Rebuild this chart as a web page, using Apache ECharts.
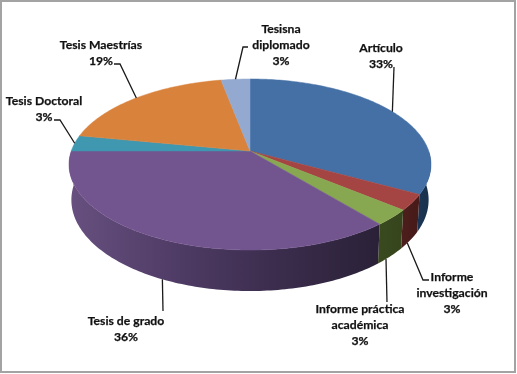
<!DOCTYPE html>
<html>
<head>
<meta charset="utf-8">
<style>html,body{margin:0;padding:0;background:#fff}#c{width:517px;height:374px}</style>
<script src="https://cdn.jsdelivr.net/npm/echarts@6/dist/echarts.min.js"></script>
</head>
<body>
<div id="c"></div>
<script>
// Data
var categories = ['Artículo','Informe investigación','Informe práctica académica','Tesis de grado','Tesis Doctoral','Tesis Maestrías','Tesisna diplomado'];
var values = [33,3,3,36,3,19,3];
var labelLines = [['Artículo'],['Informe','investigación'],['Informe práctica','académica'],['Tesis de grado'],['Tesis Doctoral'],['Tesis Maestrías'],['Tesisna','diplomado']];

// Styles
var topColors = ['#4470a6','#a54543','#87a750','#72548e','#3f97b0','#d9823c','#93a9d0'];
var wallStops = [
  [[0,'#1e3d60'],[1,'#18304a']],
  [[0,'#4e1f1c'],[1,'#471b19']],
  [[0,'#3a4a1f'],[1,'#36451c']],
  [[0,'#67507f'],[0.3,'#523e69'],[0.65,'#3c2d4e'],[1,'#2a2137']],
  null,null,null
];
var wallX = [[400,432],[398,416],[378,400],[70,380],null,null,null];

// Layout: projection of the tilted disc
var CX=250, CY=151, RX=178.7, RY=83.4, K=0.158, DEPTH=34.5, BOTTOM_X=0.987;
// label centre x, first-line middle y, leader bend points
var labelBox = [[381,48],[452,277],[360,309],[126,321],[44,101],[101,45],[281,29]];
var leaderPath = [
  [[394,67]],
  [[423,280],[429,280]],
  [[387,302]],
  [[163,311]],
  [[60,120],[54,120]],
  [[120,64],[114,64]],
  [[243,47],[248,47]]
];
var leaderOnWall = [false,true,true,true,false,false,false];
var leaderShift = [0,1.8,2,0,0,0,0];

var total = values.reduce(function(a,b){return a+b;},0);
var starts=[], acc=0;
values.forEach(function(v){starts.push(acc/total*360); acc+=v;});

function proj(deg,bottom){
  var t=deg*Math.PI/180, X=Math.sin(t), Y=-Math.cos(t), w=1-K*Y;
  return bottom
    ? [CX+BOTTOM_X*RX*X/w, CY+(RY*Y+DEPTH)/w]
    : [CX+RX*X/w, CY+RY*Y/w];
}
function arc(a,b,bottom){
  var pts=[], n=Math.max(2,Math.ceil((b-a)/1));
  for(var i=0;i<=n;i++) pts.push(proj(a+(b-a)*i/n,bottom));
  return pts;
}
function renderWall(params,api){
  var i=params.dataIndex, a=starts[i], b=a+values[i]/total*360;
  if(!wallStops[i]) return {type:'group',children:[]};
  var lo=Math.max(a,90), hi=Math.min(b,270);
  var pts=arc(lo,hi,false).concat(arc(lo,hi,true).reverse());
  return {type:'polygon',shape:{points:pts},style:{
    fill:new echarts.graphic.LinearGradient(wallX[i][0],0,wallX[i][1],0,
      wallStops[i].map(function(s){return {offset:s[0],color:s[1]};}),true)}};
}
function renderTop(params,api){
  var i=params.dataIndex, a=starts[i], b=a+values[i]/total*360;
  var pts=[[CX,CY]].concat(arc(a,b,false));
  return {type:'polygon',shape:{points:pts},style:{fill:topColors[i],stroke:topColors[i],lineWidth:0.5}};
}
function renderLabel(params,api){
  var i=params.dataIndex, mid=starts[i]+values[i]/total*180+leaderShift[i];
  var anchor=proj(mid,leaderOnWall[i]);
  var lines=labelLines[i].concat([Math.round(values[i]/total*100)+'%']);
  return {type:'group',children:[
    {type:'polyline',shape:{points:[anchor].concat(leaderPath[i])},style:{stroke:'#1a1a1a',lineWidth:1.3,fill:null}},
    {type:'text',style:{text:lines.join('\n'),x:labelBox[i][0],y:labelBox[i][1]-8,
      textAlign:'center',textVerticalAlign:'top',lineHeight:16,
      font:'bold 12.2px Lato',fill:'#111',stroke:'#111',lineWidth:0.25}}
  ]};
}
var chart=echarts.init(document.getElementById('c'),null,{renderer:'canvas'});
var idx=values.map(function(v,i){return [i,v];});
chart.setOption({
  animation:false,
  backgroundColor:'#fff',
  graphic:[{type:'rect',silent:true,z:100,shape:{x:1,y:1,width:514,height:371},style:{fill:null,stroke:'#a3a3a3',lineWidth:2}}],
  series:[
    {type:'custom',coordinateSystem:'none',silent:true,z:1,data:idx,renderItem:renderWall},
    {type:'custom',coordinateSystem:'none',silent:true,z:2,data:idx,renderItem:renderTop},
    {type:'custom',coordinateSystem:'none',silent:true,z:3,data:idx,renderItem:renderLabel}
  ]
});
</script>
</body>
</html>
